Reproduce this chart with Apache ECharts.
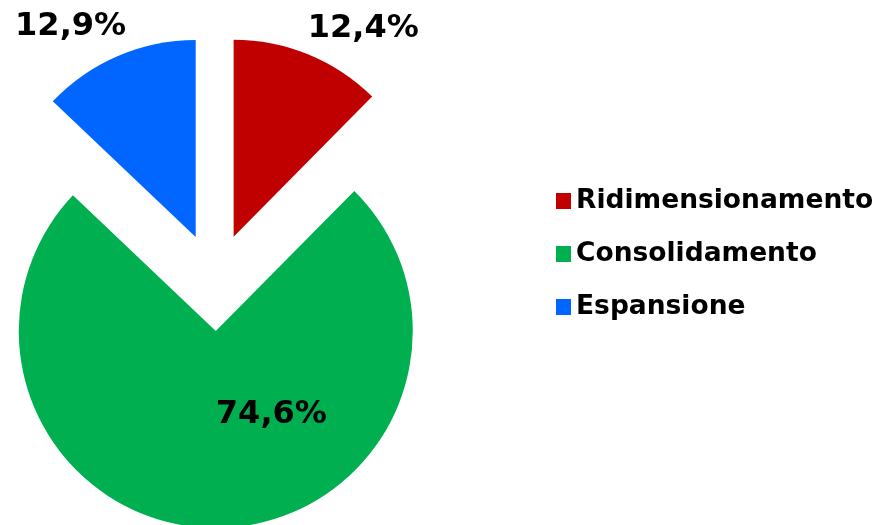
<!DOCTYPE html>
<html>
<head>
<meta charset="utf-8">
<script src="https://cdn.jsdelivr.net/npm/echarts@6/dist/echarts.min.js"></script>
<style>
  html, body { margin: 0; padding: 0; background: #fff; }
  #chart { width: 883px; height: 525px; }
</style>
</head>
<body>
<div id="chart"></div>
<script>
// dati del grafico
const categories = ['Ridimensionamento', 'Consolidamento', 'Espansione']
const values = [12.4, 74.6, 12.9]
const colors = ['#c00000', '#00b050', '#0066ff']

// spostamento delle etichette rispetto alla posizione "inside"
const labelShift = [[91, -114], [54, -18], [-85, -117]]

const chart = echarts.init(document.getElementById('chart'))

const pieData = categories.map((name, i) => ({
  name,
  value: values[i],
  selected: true,
  itemStyle: { color: colors[i] },
}))

chart.setOption({
  animation: false,
  textStyle: { fontFamily: 'DejaVu Sans' },
  legend: {
    orient: 'vertical',
    left: 551,
    top: 181,
    icon: 'rect',
    itemWidth: 15,
    itemHeight: 16,
    itemGap: 23,
    selectedMode: false,
    data: categories,
    textStyle: {
      fontFamily: 'DejaVu Sans',
      fontWeight: 'bold',
      fontSize: 26.5,
      lineHeight: 30,
      color: '#000',
    },
  },
  series: [
    {
      type: 'pie',
      center: [215, 282],
      radius: 197,
      startAngle: 90,
      clockwise: true,
      selectedMode: 'multiple',
      selectedOffset: 49,
      avoidLabelOverlap: false,
      emphasis: { disabled: true },
      label: {
        show: true,
        position: 'inside',
        fontFamily: 'DejaVu Sans',
        fontWeight: 'bold',
        fontSize: 32,
        color: '#000',
        formatter: p => p.value.toFixed(1).replace('.', ',') + '%',
      },
      labelLine: { show: false },
      labelLayout: params => ({
        dx: labelShift[params.dataIndex][0],
        dy: labelShift[params.dataIndex][1],
      }),
      data: pieData,
    },
  ],
})
</script>
</body>
</html>
